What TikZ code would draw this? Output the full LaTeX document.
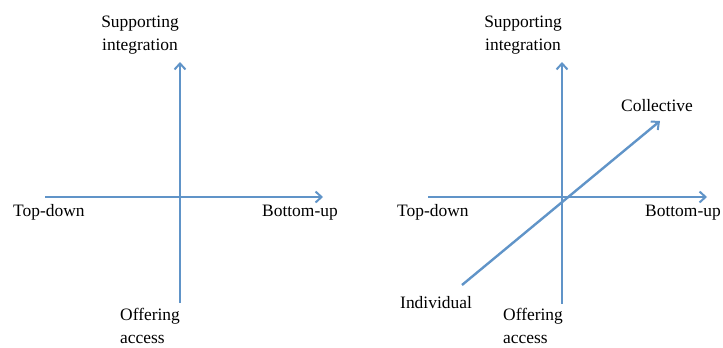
\documentclass[tikz,border=0pt]{standalone}
\usepackage{fontspec}
\setmainfont{Liberation Serif}
\usetikzlibrary{arrows.meta}
\definecolor{axisBlue}{RGB}{96, 148, 200}

\begin{document}
\begin{tikzpicture}[
    x=1bp, y=-1bp,
    every node/.style={font=\fontsize{17.5}{23}\selectfont, inner sep=0pt},
    axis/.style={-{Straight Barb[length=6bp, width=11bp, line width=2bp]}, draw=axisBlue, line width=2.4bp},
    plain/.style={draw=axisBlue, line width=2.4bp},
    axislabel/.style={align=left},
]
\useasboundingbox (0,0) rectangle (723,347);
% left quadrant
\coordinate (Ltop) at (180, 62);
\coordinate (Lbot) at (180, 303);
\coordinate (Lleft) at (45, 197);
\coordinate (Lright) at (323, 197);
\draw[plain] (Lbot) -- (180, 197);
\draw[axis] (180, 197) -- (Ltop);
\draw[axis] (Lleft) -- (Lright);
\node[axislabel, align=center] (Lsup) at (140, 35) {Supporting\\integration};
\node[anchor=west] (Ltd) at (13, 212) {Top-down};
\node[anchor=west] (Lbu) at (262, 213) {Bottom-up};
\node[axislabel, anchor=north west] (Loff) at (120, 308) {Offering\\access};
% right quadrant
\coordinate (Rtop) at (562, 62);
\coordinate (Rbot) at (562, 304);
\coordinate (Rleft) at (428, 197);
\coordinate (Rright) at (707, 197);
\coordinate (Rind) at (462, 285);
\coordinate (Rcol) at (660, 121);
\draw[plain] (Rbot) -- (562, 197);
\draw[axis] (562, 197) -- (Rtop);
\draw[axis] (Rleft) -- (Rright);
\draw[axis] (Rind) -- (Rcol);
\node[axislabel, align=center] (Rsup) at (523, 35) {Supporting\\integration};
\node[anchor=west] (Rcoll) at (621, 106) {Collective};
\node[anchor=west] (Rtd) at (397, 212) {Top-down};
\node[anchor=west] (Rbu) at (645, 213) {Bottom-up};
\node[anchor=west] (Rindl) at (400, 303) {Individual};
\node[axislabel, anchor=north west] (Roff) at (503, 308) {Offering\\access};
\end{tikzpicture}
\end{document}
